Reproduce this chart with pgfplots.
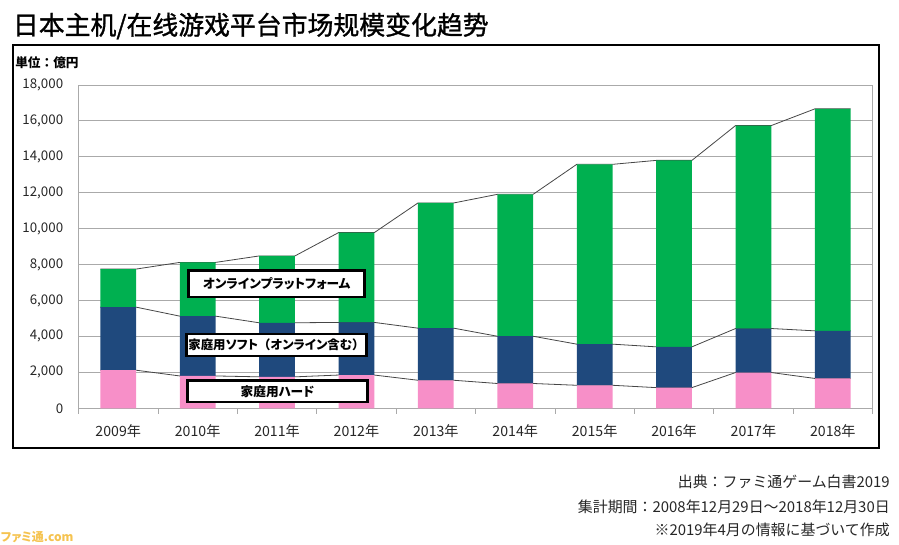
\documentclass[border=0pt]{standalone}
\usepackage{pgfplots}
\pgfplotsset{compat=1.18}
\usepackage{fontspec}
\setmainfont{Noto Sans CJK JP}
\newfontfamily\scfont[FakeBold=1.2]{Noto Sans CJK SC}
\newfontfamily\jpp[RawFeature=+palt]{Noto Sans CJK JP}
\definecolor{cgreen}{RGB}{0,176,80}
\definecolor{cnavy}{RGB}{31,73,125}
\definecolor{cpink}{RGB}{247,143,200}
\definecolor{cgrid}{RGB}{170,170,170}
\definecolor{cline}{RGB}{70,70,70}
\begin{document}
\begin{tikzpicture}
\useasboundingbox (0,0) rectangle (674.25pt,-408pt);
% title
\node[anchor=west, inner sep=0pt] at (9.5pt,-19.5pt) {\scfont\fontsize{19.4}{22}\selectfont 日本主机/在线游戏平台市场规模变化趋势};
% frame
\draw[line width=1.7pt] (10pt,-34pt) rectangle (659.4pt,-336.2pt);
\node[anchor=west, inner sep=0pt] at (11.25pt,-47.25pt) {\fontsize{9.5}{11}\selectfont\bfseries 単位：億円};
% axis with grid and series lines
\begin{axis}[
  scale only axis, width=595.5pt, height=242.5pt,
  at={(58.9pt,-306.2pt)}, anchor=south west,
  xmin=-0.5, xmax=9.5, ymin=0, ymax=18000,
  ytick={0,2000,...,18000},
  xtick={0,...,9},
  xticklabels={2009年,2010年,2011年,2012年,2013年,2014年,2015年,2016年,2017年,2018年},
  minor xtick={-0.5,0.5,...,9.5},
  tick pos=left,
  major tick length=0pt, minor tick length=4pt, tick align=outside,
  tick style={cgrid, line width=0.6pt},
  ymajorgrids, grid style={cgrid, line width=0.6pt},
  axis line style={cgrid, line width=0.6pt},
  scaled y ticks=false,
  /pgf/number format/1000 sep={,},
  /pgf/number format/assume math mode=true,
  tick label style={text=black!85},
  yticklabel style={anchor=east, xshift=-8pt, font=\fontsize{10}{12}\selectfont},
  xticklabel style={anchor=center, yshift=-16.8pt, font=\fontsize{10.6}{12}\selectfont},
]
\addplot[cline, line width=0.6pt] coordinates {
(-0.225,2120) (0.225,2120) (0.775,1800) (1.225,1800) (1.775,1750) (2.225,1750)
(2.775,1850) (3.225,1850) (3.775,1560) (4.225,1560) (4.775,1380) (5.225,1380)
(5.775,1280) (6.225,1280) (6.775,1150) (7.225,1150) (7.775,1990) (8.225,1990)
(8.775,1660) (9.225,1660)};
\addplot[cline, line width=0.6pt] coordinates {
(-0.225,5630) (0.225,5630) (0.775,5130) (1.225,5130) (1.775,4760) (2.225,4760)
(2.775,4780) (3.225,4780) (3.775,4460) (4.225,4460) (4.775,4010) (5.225,4010)
(5.775,3570) (6.225,3570) (6.775,3420) (7.225,3420) (7.775,4440) (8.225,4440)
(8.775,4310) (9.225,4310)};
\addplot[cline, line width=0.6pt] coordinates {
(-0.225,7750) (0.225,7750) (0.775,8120) (1.225,8120) (1.775,8480) (2.225,8480)
(2.775,9780) (3.225,9780) (3.775,11430) (4.225,11430) (4.775,11910) (5.225,11910)
(5.775,13580) (6.225,13580) (6.775,13800) (7.225,13800) (7.775,15740) (8.225,15740)
(8.775,16670) (9.225,16670)};
\end{axis}
% stacked bars
\begin{axis}[
  scale only axis, width=595.5pt, height=242.5pt,
  at={(58.9pt,-306.2pt)}, anchor=south west,
  xmin=-0.5, xmax=9.5, ymin=0, ymax=18000,
  hide axis,
  ybar stacked, bar width=26.8pt,
]
\addplot[fill=cpink, draw=none] coordinates {(0,2120) (1,1800) (2,1750) (3,1850) (4,1560) (5,1380) (6,1280) (7,1150) (8,1990) (9,1660)};
\addplot[fill=cnavy, draw=none] coordinates {(0,3510) (1,3330) (2,3010) (3,2930) (4,2900) (5,2630) (6,2290) (7,2270) (8,2450) (9,2650)};
\addplot[fill=cgreen, draw=none] coordinates {(0,2120) (1,2990) (2,3720) (3,5000) (4,6970) (5,7900) (6,10010) (7,10380) (8,11300) (9,12360)};
\end{axis}
% label boxes
\node[draw=black, fill=white, line width=2pt, inner sep=0pt, minimum width=132pt, minimum height=19.75pt]
  at (207.5pt,-212.9pt) {\jpp\fontsize{9.5}{11}\selectfont\bfseries オンラインプラットフォーム};
\node[draw=black, fill=white, line width=2pt, inner sep=0pt, minimum width=135pt, minimum height=16.5pt]
  at (207.4pt,-258.75pt) {\fontsize{9.3}{11}\selectfont\bfseries 家庭用{\jpp ソフト}（{\jpp オンライン}含む）};
\node[draw=black, fill=white, line width=2pt, inner sep=0pt, minimum width=135.25pt, minimum height=16pt]
  at (208.1pt,-293.5pt) {\jpp\fontsize{9.5}{11}\selectfont\bfseries 家庭用ハード};
% source
\node[anchor=east, inner sep=0pt, text=black!85] at (667.5pt,-361.3pt) {\fontsize{11.2}{13}\selectfont 出典：ファミ通ゲーム白書2019};
\node[anchor=east, inner sep=0pt, text=black!85] at (667.5pt,-380pt) {\fontsize{11.2}{13}\selectfont 集計期間：2008年12月29日～2018年12月30日};
\node[anchor=east, inner sep=0pt, text=black!85] at (667.5pt,-397.5pt) {\fontsize{11.2}{13}\selectfont ※2019年4月の情報に基づいて作成};
% watermark
\node[anchor=south west, inner sep=0.5pt, text={rgb,255:red,245;green,195;blue,80}] at (0pt,-408pt) {\jpp\fontsize{9}{10}\selectfont\bfseries ファミ通.com};
\end{tikzpicture}
\end{document}
